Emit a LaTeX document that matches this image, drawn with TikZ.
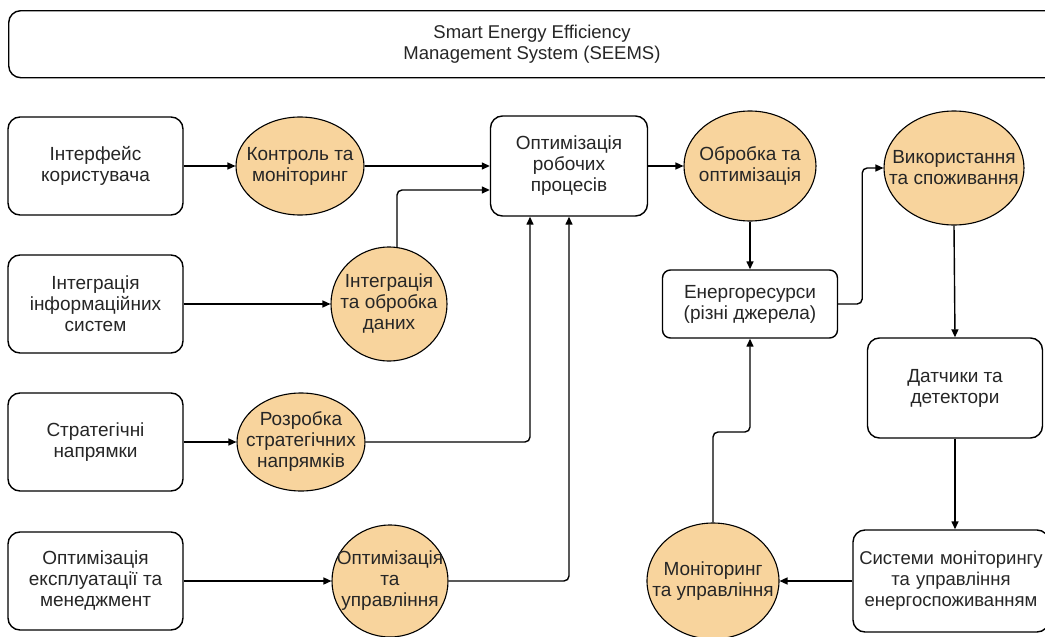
\documentclass[tikz,border=0pt]{standalone}
\usepackage{fontspec}
\setmainfont{Liberation Sans}
\usetikzlibrary{shapes.geometric,arrows.meta,calc}
\definecolor{orfill}{HTML}{F8D49D}
\definecolor{txt}{HTML}{262626}
\tikzset{
  rbox/.style={draw=black, line width=1.4pt, rounded corners=12pt, align=center, inner sep=2pt, text=txt, font=\fontsize{19}{21}\selectfont},
  oval/.style={ellipse, draw=black, line width=1.1pt, fill=orfill, inner sep=0pt,
    label={[align=center, text=txt, font=\fontsize{19}{21}\selectfont]center:#1}},
  arr/.style={line width=1.4pt, -{Triangle[length=8pt,width=7pt]}}
}
\begin{document}
\begin{tikzpicture}[x=1pt,y=-1pt]
\useasboundingbox (0,0) rectangle (1045,637);
\fill[white] (0,0) rectangle (1045,637);
% title
\node[rbox, minimum width=1050pt, minimum height=67pt, anchor=north west] (title) at (8,10) {};
\node[text=txt, align=center, font=\fontsize{18.5}{21}\selectfont] (titletext) at (532,44.5) {Smart Energy Efficiency\\Management System (SEEMS)};
% left boxes
\node[rbox, minimum width=175pt, minimum height=98pt] (b1) at (95.5,166) {Інтерфейс\\користувача};
\node[rbox, minimum width=175pt, minimum height=98pt] (b2) at (95.5,304) {Інтеграція\\інформаційних\\систем};
\node[rbox, minimum width=175pt, minimum height=98pt] (b3) at (95.5,442) {Стратегічні\\напрямки};
\node[rbox, minimum width=175pt, minimum height=98pt] (b4) at (95.5,581) {Оптимізація\\експлуатації та\\менеджмент};
% left ovals
\node[oval={Контроль та\\моніторинг}, minimum width=128pt, minimum height=98pt] (c1) at (300,166) {};
\node[oval={Інтеграція\\та обробка\\даних}, minimum width=116pt, minimum height=114pt] (c2) at (389,304) {};
\node[oval={Розробка\\стратегічних\\напрямків}, minimum width=128pt, minimum height=98pt] (c3) at (301,442) {};
\node[oval={Оптимізація\\та\\управління}, minimum width=116pt, minimum height=112pt] (c4) at (390,581) {};
% central box
\node[rbox, minimum width=157pt, minimum height=100pt] (opt) at (569,166) {Оптимізація\\робочих\\процесів};
% right side
\node[oval={Обробка та\\оптимізація}, minimum width=132pt, minimum height=110pt] (c5) at (750,166) {};
\node[rbox, minimum width=175pt, minimum height=68pt, rounded corners=8pt] (en) at (750,304) {Енергоресурси\\(різні джерела)};
\node[oval={Використання\\та споживання}, minimum width=140pt, minimum height=114pt] (c6) at (954,168) {};
\node[rbox, minimum width=175pt, minimum height=100pt] (dat) at (955,388) {Датчики та\\детектори};
\node[rbox, minimum width=196pt, minimum height=102pt, text width=190pt, font=\fontsize{18.5}{21}\selectfont] (sys) at (951,581) {Системи моніторингу\\та управління\\енергоспоживанням};
\node[oval={Моніторинг\\та управління}, minimum width=132pt, minimum height=116pt] (c7) at (713,581) {};
% connectors left
\draw[arr] (b1.east) -- (c1.west);
\draw[arr] (b2.east) -- (c2.west);
\draw[arr] (b3.east) -- (c3.west);
\draw[arr] (b4.east) -- (c4.west);
\draw[arr] (c1.east) -- (opt.west);
\draw[arr, rounded corners=5pt] ([xshift=8pt,yshift=-0.5pt]c2.north) |- ([yshift=-24pt]opt.west);
\draw[arr, rounded corners=5pt] (c3.east) -| ([xshift=-39pt]opt.south);
\draw[arr, rounded corners=5pt] (c4.east) -| (opt.south);
% connectors right
\draw[arr] (opt.east) -- (c5.west);
\draw[arr] (c5.south) -- (en.north);
\draw[arr, rounded corners=5pt] (en.east) -- ++(24,0) |- (c6.west);
\draw[arr] (c6.south) -- (dat.north);
\draw[arr] (dat.south) -- (dat.south |- sys.north);
\draw[arr] (sys.west) -- (c7.east);
\draw[arr, rounded corners=5pt] (c7.north) -- (c7.north |- 0,432) -| (en.south);
\end{tikzpicture}
\end{document}
